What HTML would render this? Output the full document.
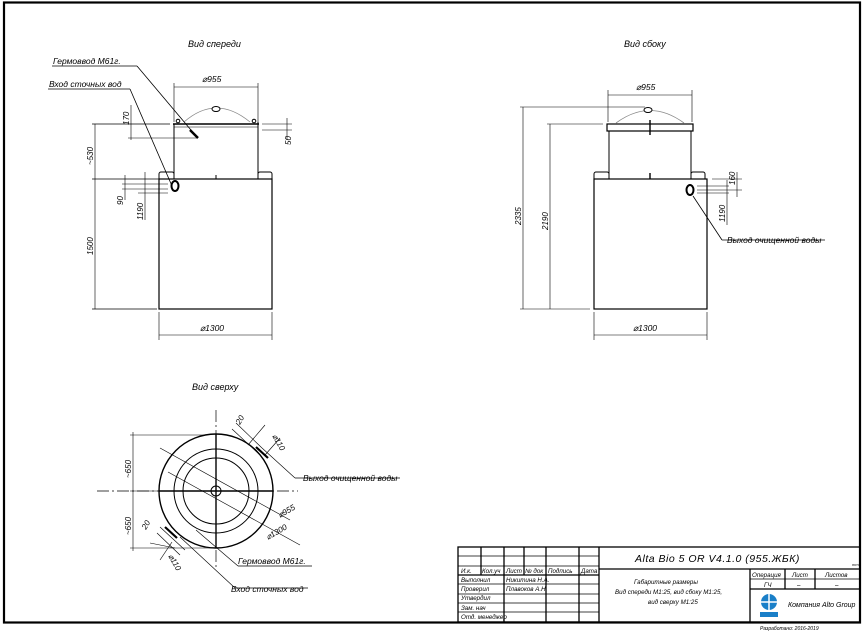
<!DOCTYPE html>
<html><head><meta charset="utf-8"><style>
html,body{margin:0;padding:0;background:#fff;}
svg{display:block;}
text{font-family:"Liberation Sans",sans-serif;font-style:italic;fill:#000;}
</style></head><body>
<svg width="862" height="632" viewBox="0 0 862 632" xmlns="http://www.w3.org/2000/svg">
<g fill="none" stroke="#000">
<rect x="4" y="2.5" width="856" height="620" stroke-width="2.2"/>

<!-- ===== FRONT VIEW ===== -->
<g stroke-width="1">
<rect x="159" y="179" width="113" height="130" stroke-width="1.2"/>
<line x1="174" y1="124" x2="174" y2="179"/><line x1="258" y1="124" x2="258" y2="179"/>
<line x1="173" y1="124" x2="259" y2="124" stroke-width="1.6"/>
<line x1="174" y1="127" x2="258" y2="127" stroke-width="0.5"/>
<path d="M184 122 Q216 94 250 122" stroke="#888" stroke-width="0.8"/>
<path d="M159 179 v-5 a2 2 0 0 1 2 -2 h11 a2 2 0 0 1 2 2 v5"/>
<path d="M258 179 v-5 a2 2 0 0 1 2 -2 h10 a2 2 0 0 1 2 2 v5"/>
<circle cx="178" cy="121" r="1.8"/><circle cx="254" cy="121" r="1.8"/>
<line x1="216" y1="175" x2="216" y2="179"/>
<line x1="258" y1="122" x2="258" y2="130"/>
<line x1="174" y1="83" x2="174" y2="122" stroke-width="0.6"/><line x1="258" y1="83" x2="258" y2="122" stroke-width="0.6"/>
<line x1="174" y1="87" x2="258" y2="87" stroke-width="0.6"/>
<line x1="159" y1="312" x2="159" y2="340" stroke-width="0.6"/><line x1="272" y1="312" x2="272" y2="340" stroke-width="0.6"/>
<line x1="159" y1="335" x2="272" y2="335" stroke-width="0.6"/>
<line x1="95" y1="124" x2="95" y2="309" stroke-width="0.6"/>
<line x1="92" y1="124" x2="170" y2="124" stroke-width="0.8"/>
<line x1="92" y1="179" x2="159" y2="179" stroke-width="0.8"/>
<line x1="92" y1="309" x2="157" y2="309" stroke-width="0.8"/>
<line x1="131" y1="105" x2="131" y2="140" stroke-width="0.6"/>
<line x1="128" y1="138" x2="198" y2="138" stroke-width="0.6"/>
<line x1="262" y1="124" x2="292" y2="124" stroke-width="0.6"/>
<line x1="262" y1="130" x2="292" y2="130" stroke-width="0.6"/>
<line x1="287" y1="118" x2="287" y2="140" stroke-width="0.6"/>
<line x1="125" y1="175" x2="125" y2="200" stroke-width="0.6"/>
<line x1="145" y1="172" x2="145" y2="220" stroke-width="0.6"/>
<line x1="122" y1="184" x2="168" y2="184" stroke-width="0.6"/>
<line x1="122" y1="189" x2="168" y2="189" stroke-width="0.6"/>
<line x1="138" y1="193" x2="168" y2="193" stroke-width="0.6"/>
<line x1="52" y1="66" x2="137" y2="66" stroke-width="0.8"/>
<line x1="137" y1="66" x2="196" y2="136" stroke-width="0.8"/>
<line x1="48" y1="89" x2="130" y2="89" stroke-width="0.8"/>
<line x1="130" y1="89" x2="172" y2="186" stroke-width="0.8"/>
<line x1="190" y1="130" x2="198" y2="138" stroke-width="2.5"/>
<ellipse cx="175" cy="186" rx="3.5" ry="5" stroke-width="2"/>
</g>
<ellipse cx="216" cy="109" rx="4" ry="2.5" fill="#fff" stroke-width="1"/>

<!-- ===== SIDE VIEW ===== -->
<g stroke-width="1">
<rect x="594" y="179" width="113" height="130" stroke-width="1.2"/>
<line x1="609" y1="131" x2="609" y2="179"/><line x1="691" y1="131" x2="691" y2="179"/>
<rect x="607" y="124" width="86" height="7" stroke-width="1.2"/>
<path d="M616 123 Q650 98 684 123" stroke="#888" stroke-width="0.8"/>
<path d="M594 179 v-5 a2 2 0 0 1 2 -2 h11 a2 2 0 0 1 2 2 v5"/>
<path d="M691 179 v-5 a2 2 0 0 1 2 -2 h10 a2 2 0 0 1 2 2 v5"/>
<line x1="650" y1="120" x2="650" y2="135" stroke-width="1.4"/>
<line x1="650" y1="173" x2="650" y2="179" stroke-width="1.4"/>
<line x1="608" y1="90" x2="608" y2="122" stroke-width="0.6"/><line x1="692" y1="90" x2="692" y2="122" stroke-width="0.6"/>
<line x1="608" y1="95" x2="692" y2="95" stroke-width="0.6"/>
<line x1="594" y1="312" x2="594" y2="340" stroke-width="0.6"/><line x1="707" y1="312" x2="707" y2="340" stroke-width="0.6"/>
<line x1="594" y1="335" x2="707" y2="335" stroke-width="0.6"/>
<line x1="523" y1="107" x2="523" y2="309" stroke-width="0.6"/>
<line x1="550" y1="124" x2="550" y2="309" stroke-width="0.6"/>
<line x1="520" y1="107" x2="645" y2="107" stroke-width="0.6"/>
<line x1="547" y1="124" x2="603" y2="124" stroke-width="0.6"/>
<line x1="520" y1="309" x2="590" y2="309" stroke-width="0.6"/>
<line x1="712" y1="179" x2="742" y2="179" stroke-width="0.6"/>
<line x1="697" y1="186" x2="729" y2="186" stroke-width="0.6"/>
<line x1="697" y1="190" x2="742" y2="190" stroke-width="0.6"/>
<line x1="697" y1="193" x2="729" y2="193" stroke-width="0.6"/>
<line x1="737" y1="172" x2="737" y2="197" stroke-width="0.6"/>
<line x1="727" y1="180" x2="727" y2="225" stroke-width="0.6"/>
<line x1="693" y1="196" x2="722" y2="240" stroke-width="0.8"/>
<line x1="722" y1="240" x2="825" y2="240" stroke-width="0.8"/>
<ellipse cx="690" cy="190" rx="3.5" ry="5" stroke-width="2"/>
</g>
<ellipse cx="648" cy="110" rx="4" ry="2.5" fill="#fff" stroke-width="1"/>

<!-- ===== TOP VIEW ===== -->
<g stroke-width="1">
<line x1="97" y1="491" x2="298" y2="491" stroke-width="0.7" stroke-dasharray="12 3 2 3"/>
<line x1="216" y1="410" x2="216" y2="567" stroke-width="0.7" stroke-dasharray="12 3 2 3"/>
<circle cx="216" cy="491" r="57" stroke-width="1.4"/>
<circle cx="216" cy="491" r="42"/>
<circle cx="216" cy="491" r="33"/>
<circle cx="216" cy="491" r="5"/>
<line x1="159" y1="491" x2="273" y2="491" stroke-width="1.4"/>
<line x1="216" y1="434" x2="216" y2="548" stroke-width="1.4"/>
<line x1="130" y1="435" x2="205" y2="435" stroke-width="0.6"/>
<line x1="130" y1="491" x2="160" y2="491" stroke-width="0.6"/>
<line x1="130" y1="548" x2="213" y2="548" stroke-width="0.6"/>
<line x1="133" y1="432" x2="133" y2="551" stroke-width="0.6"/>
<line x1="160" y1="448" x2="290" y2="520" stroke-width="0.6"/>
<line x1="168" y1="472" x2="300" y2="545" stroke-width="0.6"/>
<line x1="232" y1="429" x2="260" y2="455" stroke-width="0.6"/>
<line x1="236" y1="423" x2="262" y2="448" stroke-width="0.6"/>
<line x1="265" y1="425" x2="248" y2="445" stroke-width="0.6"/>
<line x1="280" y1="438" x2="265" y2="455" stroke-width="0.6"/>
<line x1="262" y1="448" x2="295" y2="478" stroke-width="0.6"/>
<line x1="295" y1="478" x2="400" y2="478" stroke-width="0.8"/>
<line x1="160" y1="527" x2="185" y2="550" stroke-width="0.6"/>
<line x1="157" y1="533" x2="180" y2="555" stroke-width="0.6"/>
<line x1="150" y1="543" x2="175" y2="548" stroke-width="0.6"/>
<line x1="172" y1="542" x2="160" y2="560" stroke-width="0.6"/>
<line x1="180" y1="537" x2="235" y2="588" stroke-width="0.6"/>
<line x1="235" y1="588" x2="308" y2="588" stroke-width="0.8"/>
<line x1="196" y1="530" x2="238" y2="566" stroke-width="0.6"/>
<line x1="238" y1="566" x2="312" y2="566" stroke-width="0.8"/>
<line x1="256" y1="447" x2="268" y2="458" stroke-width="2.2"/>
<line x1="165" y1="527" x2="177" y2="538" stroke-width="2.2"/>
</g>

<!-- ===== TITLE BLOCK ===== -->
<g stroke-width="1.3">
<rect x="458" y="547" width="402" height="75"/>
<line x1="599" y1="547" x2="599" y2="622"/>
<line x1="599" y1="569" x2="860" y2="569"/>
<line x1="750" y1="569" x2="750" y2="622"/>
<line x1="785" y1="569" x2="785" y2="589"/>
<line x1="815" y1="569" x2="815" y2="589"/>
<line x1="750" y1="579" x2="860" y2="579" stroke-width="0.8"/>
<line x1="750" y1="589" x2="860" y2="589"/>
<line x1="481" y1="547" x2="481" y2="575"/>
<line x1="504" y1="547" x2="504" y2="575"/>
<line x1="524" y1="547" x2="524" y2="575"/>
<line x1="546" y1="547" x2="546" y2="622"/>
<line x1="579" y1="547" x2="579" y2="622"/>
<line x1="504" y1="575" x2="504" y2="622"/>
<line x1="458" y1="556" x2="599" y2="556" stroke-width="0.8"/>
<line x1="458" y1="566" x2="599" y2="566" stroke-width="0.8"/>
<line x1="458" y1="575" x2="599" y2="575"/>
<line x1="458" y1="584" x2="599" y2="584" stroke-width="0.8"/>
<line x1="458" y1="594" x2="599" y2="594" stroke-width="0.8"/>
<line x1="458" y1="603" x2="599" y2="603" stroke-width="0.8"/>
<line x1="458" y1="612" x2="599" y2="612" stroke-width="0.8"/>
</g>
</g>

<circle cx="769" cy="602" r="8" fill="#1a7fc8"/>
<rect x="760" y="612" width="18" height="5" fill="#1a7fc8"/>
<line x1="761" y1="602" x2="777" y2="602" stroke="#fff" stroke-width="1.5"/>
<line x1="769" y1="594" x2="769" y2="610" stroke="#fff" stroke-width="1.5"/>

<g font-size="9">
<text x="188" y="47">Вид спереди</text>
<text x="624" y="47">Вид сбоку</text>
<text x="192" y="390">Вид сверху</text>
<text x="53" y="64" font-size="8.5">Гермоввод М61г.</text>
<text x="49" y="87" font-size="8.5">Вход сточных вод</text>
<text x="202" y="82" font-size="8.5">⌀955</text>
<text x="636" y="90" font-size="8.5">⌀955</text>
<text x="200" y="331" font-size="8.5">⌀1300</text>
<text x="633" y="331" font-size="8.5">⌀1300</text>
<text x="727" y="243" font-size="8.5">Выход очищенной воды</text>
<text x="303" y="481" font-size="8.5">Выход очищенной воды</text>
<text x="238" y="564" font-size="8.5">Гермоввод М61г.</text>
<text x="231" y="592" font-size="8.5">Вход сточных вод</text>
<text x="280" y="518" font-size="8" transform="rotate(-30 280 518)">⌀955</text>
<text x="268" y="540" font-size="8" transform="rotate(-30 268 540)">⌀1300</text>
<text x="272" y="436" font-size="8" transform="rotate(60 272 436)">⌀110</text>
<text x="168" y="556" font-size="8" transform="rotate(60 168 556)">⌀110</text>
<text x="240" y="425" font-size="8" transform="rotate(-60 240 425)">20</text>
<text x="146" y="530" font-size="8" transform="rotate(-60 146 530)">20</text>
<g font-size="8">
<text transform="translate(93 165) rotate(-90)">~530</text>
<text transform="translate(93 255) rotate(-90)">1500</text>
<text transform="translate(129 125) rotate(-90)">170</text>
<text transform="translate(291 145) rotate(-90)">50</text>
<text transform="translate(123 205) rotate(-90)">90</text>
<text transform="translate(143 220) rotate(-90)">1190</text>
<text transform="translate(521 225) rotate(-90)">2335</text>
<text transform="translate(548 230) rotate(-90)">2190</text>
<text transform="translate(735 185) rotate(-90)">160</text>
<text transform="translate(725 222) rotate(-90)">1190</text>
<text transform="translate(131 478) rotate(-90)">~650</text>
<text transform="translate(131 535) rotate(-90)">~650</text>
</g>
</g>
<g font-size="6.2">
<text x="461" y="573">И.к.</text><text x="482" y="573">Кол.уч</text><text x="506" y="573">Лист</text><text x="525" y="573">№ док</text><text x="548" y="573">Подпись</text><text x="581" y="573">Дата</text>
<text x="461" y="582">Выполнил</text><text x="506" y="582">Никитина Н.А.</text>
<text x="461" y="591">Проверил</text><text x="506" y="591">Плавоков А.Н.</text>
<text x="461" y="600">Утвердил</text>
<text x="461" y="610">Зам. нач</text>
<text x="461" y="619">Отд. менеджер</text>
<text x="634" y="584">Габаритные размеры</text>
<text x="615" y="594">Вид спереди М1:25, вид сбоку М1:25,</text>
<text x="648" y="604">вид сверху М1:25</text>
<text x="752" y="577">Операция</text><text x="792" y="577">Лист</text><text x="825" y="577">Листов</text>
<text x="764" y="587">ГЧ</text><text x="797" y="587">–</text><text x="835" y="587">–</text>
<text x="788" y="607" font-size="7">Компания Alto Group</text>
</g>
<text x="635" y="562" font-size="10.5" letter-spacing="0.5">Alta Bio 5 OR V4.1.0 (955.ЖБК)</text>
<text x="852" y="566" font-size="4">mm</text>
<text x="760" y="630" font-size="5" font-style="normal">Разработано: 2016-2019</text>
</svg>
</body></html>
